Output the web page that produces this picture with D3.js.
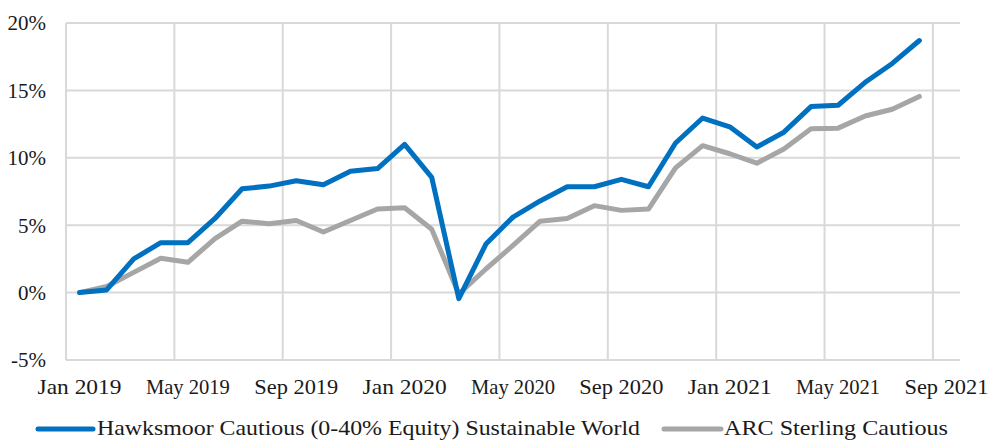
<!DOCTYPE html>
<html><head><meta charset="utf-8">
<script src="https://cdn.jsdelivr.net/npm/d3@7"></script>
<style>
html,body{margin:0;padding:0;background:#fff;}
</style></head>
<body>
<svg id="chart" width="1003" height="441"></svg>
<script>
const months = ["Jan 2019","Feb 2019","Mar 2019","Apr 2019","May 2019","Jun 2019","Jul 2019","Aug 2019","Sep 2019","Oct 2019","Nov 2019","Dec 2019",
"Jan 2020","Feb 2020","Mar 2020","Apr 2020","May 2020","Jun 2020","Jul 2020","Aug 2020","Sep 2020","Oct 2020","Nov 2020","Dec 2020",
"Jan 2021","Feb 2021","Mar 2021","Apr 2021","May 2021","Jun 2021","Jul 2021","Aug 2021","Sep 2021"];
const tickLabels = ["Jan 2019","May 2019","Sep 2019","Jan 2020","May 2020","Sep 2020","Jan 2021","May 2021","Sep 2021"];
const yTicks = [-5,0,5,10,15,20];
const seriesNames = ["Hawksmoor Cautious (0-40% Equity) Sustainable World","ARC Sterling Cautious"];
const hawksmoor = [0.0,0.2,2.5,3.7,3.7,5.5,7.7,7.9,8.3,8.0,9.0,9.2,
  11.0,8.55,-0.45,3.6,5.6,6.8,7.85,7.85,8.4,7.85,11.1,12.95,
  12.3,10.8,11.9,13.8,13.9,15.6,17.0,18.7];
const arc = [0.0,0.45,1.5,2.55,2.25,4.0,5.3,5.1,5.35,4.5,5.35,6.2,
  6.3,4.7,-0.1,1.75,3.5,5.3,5.5,6.45,6.1,6.2,9.25,10.9,
  10.3,9.6,10.65,12.15,12.2,13.1,13.6,14.55];

const FONT = "'Times New Roman', Tinos, 'Liberation Serif', 'Noto Serif', 'DejaVu Serif', serif";
const svg = d3.select("#chart");
const mLeft = 66, mRight = 960, mTop = 23, mBottom = 360;
const x = d3.scaleBand().domain(months).range([mLeft, mRight]).padding(0);
const y = d3.scaleLinear().domain([-5, 20]).range([mBottom, mTop]);
const grid = "#d9d9d9";

svg.append("g").selectAll("line").data(yTicks).join("line")
  .attr("x1", mLeft).attr("x2", mRight)
  .attr("y1", d => y(d)).attr("y2", d => y(d))
  .attr("stroke", grid).attr("stroke-width", 2);
svg.append("g").selectAll("line").data(tickLabels).join("line")
  .attr("x1", d => x(d)).attr("x2", d => x(d))
  .attr("y1", mTop).attr("y2", mBottom)
  .attr("stroke", grid).attr("stroke-width", 2);

svg.append("g").selectAll("text").data(yTicks).join("text")
  .attr("x", 46).attr("y", d => y(d)).attr("dy", "0.35em")
  .attr("text-anchor", "end").attr("font-size", 21)
  .attr("font-family", FONT).attr("fill", "#1a1a1a")
  .text(d => d + "%");
svg.append("g").selectAll("text").data(tickLabels).join("text")
  .attr("x", d => x(d) + x.bandwidth() / 2).attr("y", 394)
  .attr("text-anchor", "middle").attr("font-size", 21)
  .attr("font-family", FONT).attr("fill", "#1a1a1a")
  .attr("textLength", 84).attr("lengthAdjust", "spacingAndGlyphs")
  .text(d => d);

const line = d3.line().x((d, i) => x(months[i]) + x.bandwidth() / 2).y(d => y(d));
svg.append("path").datum(arc).attr("d", line).attr("fill", "none")
  .attr("stroke", "#a6a6a6").attr("stroke-width", 5).attr("stroke-linejoin", "round").attr("stroke-linecap", "round");
svg.append("path").datum(hawksmoor).attr("d", line).attr("fill", "none")
  .attr("stroke", "#0070c0").attr("stroke-width", 5).attr("stroke-linejoin", "round").attr("stroke-linecap", "round");

const legend = [
  {name: seriesNames[0], color: "#0070c0", x0: 38, x1: 93, tx: 97, w: 543},
  {name: seriesNames[1], color: "#a6a6a6", x0: 664, x1: 721, tx: 724, w: 224}
];
const lg = svg.append("g");
lg.selectAll("line").data(legend).join("line")
  .attr("x1", d => d.x0).attr("x2", d => d.x1).attr("y1", 429).attr("y2", 429)
  .attr("stroke", d => d.color).attr("stroke-width", 5).attr("stroke-linecap", "round");
lg.selectAll("text").data(legend).join("text")
  .attr("x", d => d.tx).attr("y", 435).attr("font-size", 21)
  .attr("font-family", FONT).attr("fill", "#1a1a1a")
  .attr("textLength", d => d.w).attr("lengthAdjust", "spacingAndGlyphs")
  .text(d => d.name);
</script>
</body></html>
